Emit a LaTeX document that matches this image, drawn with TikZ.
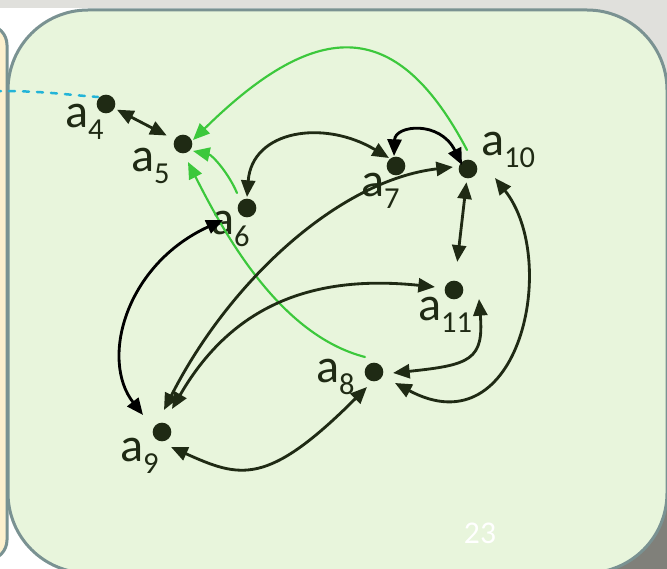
\documentclass[tikz,border=0pt]{standalone}
\usepackage{fontspec}
\setmainfont{Carlito}
\usetikzlibrary{arrows.meta,calc}
\definecolor{slide}{HTML}{E0E0DC}
\definecolor{panel}{HTML}{E8F5DC}
\definecolor{rim}{HTML}{7A9292}
\definecolor{cream}{HTML}{FDF0CE}
\definecolor{dropgray}{HTML}{80807A}
\definecolor{ink}{HTML}{1F2A14}
\definecolor{leaf}{HTML}{3CC83C}
\definecolor{wire}{HTML}{22B4D8}
\tikzset{
  dot/.style={circle,fill=ink,inner sep=0pt,minimum size=5.6mm,outer sep=0.9mm},
  tag/.style={anchor=base west,inner sep=0pt,text=ink,font=\fontsize{41}{41}\selectfont},
  link/.style={draw=ink,line width=0.85mm,<->},
  blk/.style={link,draw=black},
  hint/.style={draw=leaf,line width=0.65mm,->},
}
\newcommand\lowidx[1]{\raisebox{-3.6mm}{\fontsize{26}{26}\selectfont #1}}
\begin{document}
\begin{tikzpicture}[line cap=round, line join=round, x=0.3mm, y=-0.3mm, >={Triangle[length=5mm,width=4.2mm]}]
  \useasboundingbox (0,0) rectangle (667,569);
  % slide behind the panel
  \fill[slide] (0,0) rectangle (667,569);
  \fill[white] (0,8) rectangle (300,569);
  \draw[rim,fill=cream,line width=0.9mm,rounded corners=6mm] (-40,25) rectangle (7,560);
  \fill[dropgray,rounded corners=24mm] (100,200) rectangle (692,594);
  \draw[rim,fill=panel,line width=0.9mm,rounded corners=24mm] (8,10) rectangle (667,573);
  \node[font=\fontsize{27}{27}\selectfont,text=white] (pg) at (480,533) {23};
  % vertices
  \foreach \n/\x/\y/\u/\v in {4/106/104/65/127, 5/183/144/131/171, 6/247/208/211/234,
      7/396/166/361/196, 8/374/372/316/382, 9/162/432/120/461,
      10/468/169/481/155, 11/454/290/418/320}
    {\node[dot] (a\n) at (\x,\y) {};
     \node[tag] (t\n) at (\u,\v) {a\lowidx{\n}};}
  \coordinate (lead) at (-5,91);
  \draw[wire,line width=0.75mm,dash pattern=on 1.8mm off 2.4mm] (lead) .. controls +(50,0) and +(-40,-3) .. ($(a4)+(-8,-7)$);
  % edges
  \draw[link,shorten >=1.8mm] (a4) -- (a5);
  \draw[link,shorten <=0.3mm,shorten >=4.8mm] (a10) -- (a11);
  \draw[hint] ($(a10)+(-1,-19)$) .. controls +(-69,-131) and +(127,-125) .. ($(a5)+(10,-4)$);
  \draw[hint] ($(a6)+(-10,-15)$) .. controls +(-9,-21) and +(19,4) .. ($(a5)+(10,7)$);
  \draw[hint] ($(a8)+(-9,-15)$) .. controls +(-85,-22) and +(37,73) .. ($(a5)+(5,18)$);
  \draw[link] ($(a6)+(0,-11)$) .. controls +(5,-67) and +(-65,-39) .. ($(a7)+(-7,-8)$);
  \draw[blk] ($(a7)+(-2,-10)$) .. controls +(1,-31) and +(-22,-45) .. ($(a10)+(-6,-4)$);
  \draw[link] ($(a9)+(2,-22)$) .. controls +(66,-130) and +(-113,13) .. ($(a10)+(-15,-2)$);
  \draw[link] ($(a9)+(10,-23)$) .. controls +(63,-109) and +(-115,-12) .. ($(a11)+(-19,-3)$);
  \draw[blk] ($(a6)+(-24,12)$) .. controls +(-98,45) and +(-43,-55) .. ($(a9)+(-19,-17)$);
  \draw[link] ($(a9)+(9,15)$) .. controls +(69,31) and +(-100,100) .. ($(a8)+(-7,15)$);
  \draw[link] ($(a11)+(25,9)$) .. controls +(5,61) and +(77,-8) .. ($(a8)+(19,1)$);
  \draw[link] ($(a10)+(27,9)$) .. controls +(65,82) and +(125,67) .. ($(a8)+(21,11)$);
\end{tikzpicture}
\end{document}
